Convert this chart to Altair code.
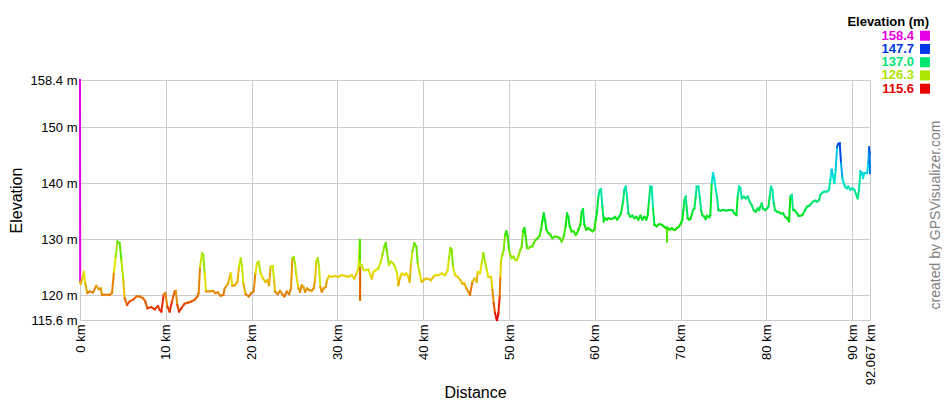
import altair as alt
import pandas as pd

# Track profile (distance in km, elevation in m)
dist_km = [
    0.00, 0.02, 0.08, 0.23, 0.47, 0.62, 0.85, 1.13, 1.52, 1.90, 2.18, 2.41, 2.56, 3.46, 3.73, 3.96,
    4.16, 4.35, 4.62, 4.82, 5.05, 5.21, 5.48, 5.79, 6.18, 6.57, 6.95, 7.34, 7.61, 7.85, 8.31, 8.70,
    9.09, 9.29, 9.48, 9.75, 9.95, 10.18, 10.45, 10.72, 11.03, 11.15, 11.34, 11.54, 11.81, 12.20,
    12.59, 12.98, 13.36, 13.68, 13.83, 13.99, 14.22, 14.37, 14.53, 14.69, 15.11, 15.50, 15.77,
    16.08, 16.39, 16.71, 16.86, 17.25, 17.56, 17.75, 18.03, 18.34, 18.53, 18.73, 18.88, 19.04,
    19.31, 19.66, 19.97, 20.24, 20.44, 20.63, 20.82, 21.06, 21.33, 21.60, 21.83, 22.03, 22.22,
    22.46, 22.61, 22.73, 23.04, 23.31, 23.58, 23.82, 24.09, 24.36, 24.59, 24.75, 24.90, 25.06,
    25.21, 25.45, 25.64, 25.84, 26.03, 26.22, 26.46, 26.69, 27.00, 27.23, 27.39, 27.54, 27.70,
    27.86, 28.01, 28.17, 28.40, 28.63, 28.79, 29.02, 29.33, 29.73, 30.11, 30.50, 30.89, 31.27,
    31.66, 31.97, 32.24, 32.44, 32.62, 32.63, 32.64, 32.65, 32.66, 32.83, 33.06, 33.30, 33.61,
    33.84, 34.00, 34.23, 34.46, 34.77, 35.00, 35.24, 35.47, 35.63, 35.78, 36.01, 36.25, 36.48,
    36.71, 36.95, 37.10, 37.26, 37.49, 37.80, 38.04, 38.27, 38.42, 38.58, 38.73, 38.97, 39.20,
    39.36, 39.59, 39.82, 40.06, 40.29, 40.60, 40.91, 41.18, 41.45, 41.76, 42.15, 42.54, 42.85,
    43.00, 43.16, 43.32, 43.47, 43.71, 44.02, 44.33, 44.56, 44.79, 45.03, 45.26, 45.45, 45.73,
    45.96, 46.23, 46.35, 46.62, 46.81, 47.01, 47.20, 47.40, 47.59, 47.90, 48.06, 48.21, 48.37,
    48.52, 48.60, 48.76, 48.91, 48.99, 49.07, 49.22, 49.38, 49.53, 49.69, 49.84, 50.00, 50.16,
    50.31, 50.50, 50.70, 50.93, 51.09, 51.32, 51.48, 51.63, 51.79, 51.94, 52.10, 52.25, 52.49,
    52.72, 52.88, 53.11, 53.34, 53.57, 53.73, 53.88, 54.04, 54.20, 54.35, 54.58, 54.82, 55.05,
    55.36, 55.67, 55.90, 56.14, 56.37, 56.60, 56.76, 56.91, 57.07, 57.30, 57.54, 57.77, 57.92,
    58.08, 58.31, 58.47, 58.62, 58.78, 59.01, 59.24, 59.48, 59.71, 59.94, 60.10, 60.26, 60.41,
    60.57, 60.72, 60.88, 61.03, 61.19, 61.42, 61.58, 61.89, 62.16, 62.35, 62.59, 62.82, 63.05,
    63.29, 63.44, 63.60, 63.75, 63.91, 64.14, 64.37, 64.61, 64.84, 65.07, 65.31, 65.54, 65.77,
    66.00, 66.16, 66.32, 66.47, 66.63, 66.78, 66.94, 67.21, 67.48, 67.79, 68.02, 68.26, 68.40,
    68.41, 68.42, 68.72, 68.96, 69.19, 69.35, 69.58, 69.81, 70.05, 70.20, 70.32, 70.44, 70.59,
    70.70, 70.82, 70.98, 71.13, 71.29, 71.44, 71.60, 71.76, 71.87, 72.07, 72.22, 72.38, 72.53,
    72.77, 72.92, 73.08, 73.31, 73.46, 73.62, 73.77, 73.93, 74.09, 74.24, 74.40, 74.63, 74.86,
    75.10, 75.33, 75.56, 75.80, 76.03, 76.26, 76.50, 76.65, 76.81, 76.96, 77.12, 77.35, 77.58,
    77.82, 78.05, 78.28, 78.52, 78.75, 78.98, 79.14, 79.29, 79.45, 79.60, 79.84, 80.07, 80.23,
    80.38, 80.54, 80.69, 80.85, 81.00, 81.24, 81.47, 81.70, 81.94, 82.17, 82.40, 82.63, 82.79,
    82.95, 83.10, 83.26, 83.41, 83.57, 83.72, 83.95, 84.19, 84.50, 84.73, 84.96, 85.19, 85.43,
    85.66, 85.89, 86.13, 86.28, 86.52, 86.75, 87.06, 87.29, 87.45, 87.60, 87.76, 87.92, 88.07,
    88.23, 88.38, 88.54, 88.69, 88.85, 89.00, 89.16, 89.39, 89.55, 89.78, 90.01, 90.25, 90.48,
    90.63, 90.79, 90.95, 91.10, 91.26, 91.41, 91.57, 91.72, 91.88, 91.96, 92.03, 92.067,
]
elev_m = [
    158.4, 122.4, 122.1, 122.7, 124.2, 122.1, 120.4, 120.7, 120.5, 121.7, 121.1, 121.25, 120.1, 120.1, 120.4, 124.2,
    126.9, 129.6, 129.3, 126.3, 122.7, 119.5, 118.3, 118.9, 119.2, 119.8, 119.8, 119.5, 118.9, 117.7, 117.9, 117.5,
    118.1, 117.4, 117.1, 120.1, 120.4, 118.0, 117.1, 118.9, 120.7, 120.8, 118.3, 117.1, 117.7, 118.5,
    118.7, 118.9, 119.2, 119.8, 120.4, 125.1, 127.5, 127.2, 123.9, 120.7, 120.7, 120.8, 120.4,
    120.5, 119.9, 120.1, 121.25, 122.1, 123.9, 121.7, 121.8, 122.4, 125.1, 126.6, 125.1, 122.1,
    120.2, 119.8, 120.4, 120.7, 123.9, 125.7, 126.0, 123.9, 123.0, 122.4, 122.7, 121.8, 125.1,
    125.2, 122.7, 120.65, 120.2, 120.8, 120.2, 119.8, 120.65, 120.2, 121.25, 126.6, 126.8, 125.7,
    123.6, 121.25, 120.65, 121.8, 121.5, 120.65, 121.25, 120.95, 120.8, 121.25, 122.7, 126.0, 126.6,
    125.1, 121.5, 120.65, 121.25, 121.5, 122.7, 123.45, 123.3, 123.45, 123.3, 123.6, 123.45, 123.3,
    123.6, 123.0, 123.9, 124.8, 129.9, 126.0, 119.2, 125.2, 125.3, 125.4, 124.5, 124.5, 124.6,
    123.6, 123.0, 124.2, 124.5, 124.8, 125.7, 127.2, 128.7, 129.3, 127.8, 125.4, 126.0, 125.7,
    125.1, 123.9, 121.8, 123.0, 123.9, 123.6, 123.9, 123.3, 122.4, 125.7, 127.8, 129.3, 128.7,
    125.7, 123.9, 122.4, 122.7, 123.0, 122.9, 122.7, 123.3, 123.6, 123.6, 123.9, 123.6, 124.5,
    126.6, 128.4, 128.1, 125.1, 123.6, 123.3, 122.7, 122.1, 122.1, 121.25, 120.65, 120.06, 122.4,
    123.0, 122.4, 124.2, 123.9, 125.7, 127.5, 126.0, 124.5, 123.3, 123.3, 121.0, 118.6, 116.8,
    115.9, 115.6, 116.8, 119.8, 123.3, 126.3, 127.2, 128.1, 130.8, 131.4, 130.5, 128.1, 127.2,
    126.6, 126.9, 126.4, 126.3, 127.0, 128.1, 128.7, 131.4, 132.0, 130.5, 128.4, 128.4, 128.7,
    128.7, 129.3, 129.9, 130.2, 130.6, 131.7, 133.2, 134.6, 133.5, 131.7, 131.1, 130.8, 130.2,
    130.5, 130.4, 130.2, 129.6, 130.5, 132.3, 134.6, 134.0, 132.3, 131.4, 131.4, 130.8, 131.1,
    131.7, 132.6, 134.9, 135.4, 132.6, 131.7, 132.0, 131.7, 131.4, 131.7, 133.5, 134.9, 137.6,
    138.8, 138.9, 135.8, 133.2, 133.75, 133.5, 133.75, 133.6, 133.75, 134.0, 133.5, 134.0, 134.6,
    136.7, 138.8, 139.4, 137.6, 134.6, 134.0, 134.2, 133.75, 134.0, 133.5, 134.2, 133.5, 134.0,
    133.5, 134.3, 137.0, 139.4, 139.3, 135.5, 132.6, 132.3, 132.7, 132.6, 132.3, 132.0, 132.0,
    129.6, 132.1, 131.7, 132.0, 131.7, 131.7, 132.0, 132.3, 132.9, 133.5, 135.2, 137.0, 137.6,
    135.8, 133.75, 133.5, 133.6, 134.3, 135.2, 135.5, 137.6, 139.4, 139.4, 137.6, 135.2, 134.3,
    134.0, 133.6, 134.2, 133.9, 134.3, 140.0, 141.8, 140.7, 138.8, 137.6, 135.2, 135.1, 135.2,
    135.2, 135.1, 135.2, 135.2, 135.2, 134.6, 134.3, 137.6, 139.4, 139.1, 137.3, 137.6, 137.3,
    137.6, 136.7, 136.1, 135.2, 134.9, 135.5, 135.2, 135.8, 136.4, 135.5, 135.2, 135.5, 135.8,
    137.6, 139.4, 138.8, 136.4, 135.2, 134.9, 134.8, 134.6, 134.6, 134.0, 133.75, 133.2, 137.6,
    137.9, 135.2, 135.2, 134.9, 134.6, 134.2, 134.2, 134.3, 135.2, 135.8, 135.95, 136.3, 136.7,
    136.9, 136.7, 137.0, 137.9, 138.3, 138.5, 138.5, 138.8, 140.6, 142.4, 141.2, 140.0, 142.4,
    146.5, 147.0, 147.1, 143.6, 140.9, 140.0, 139.4, 139.1, 139.4, 138.8, 139.1, 138.8, 137.9,
    137.3, 138.8, 142.1, 141.8, 140.9, 141.8, 141.8, 141.8, 143.6, 146.4, 145.4, 141.8,
]

x_tick_km = [0, 10, 20, 30, 40, 50, 60, 70, 80, 90, 92.067]
y_tick_m = [115.6, 120, 130, 140, 150, 158.4]
legend_m = [158.4, 147.7, 137.0, 126.3, 115.6]
color_stops_m = [115.6, 119.88, 124.16, 128.44, 132.72, 137.0, 141.28, 145.56, 149.84, 154.12, 158.4]
color_stops_hex = ["#e60000", "#e67300", "#e6e600", "#73e600", "#00e600", "#00e673",
                   "#00e6e6", "#0073e6", "#0000e6", "#7300e6", "#e600e6"]

FONT = "Liberation Sans"

seg = pd.DataFrame({
    "d": dist_km[:-1], "e": elev_m[:-1],
    "d2": dist_km[1:], "e2": elev_m[1:],
})
legend_df = pd.DataFrame({"v": legend_m, "k": list(range(len(legend_m)))})

cscale = alt.Scale(domain=color_stops_m, range=color_stops_hex, interpolate="hsl")
xscale = alt.Scale(domain=[0, 92.067], nice=False, zero=False)
yscale = alt.Scale(domain=[115.6, 158.4], nice=False, zero=False)

profile = alt.Chart(seg).mark_rule(strokeWidth=2, strokeCap="square").encode(
    x=alt.X("d:Q", scale=xscale, title="Distance",
            axis=alt.Axis(values=x_tick_km, labelExpr="datum.value + ' km'",
                          labelAngle=270, labelAlign="right", labelBaseline="middle",
                          labelPadding=4, labelOverlap=False, labelFlush=False,
                          labelFont=FONT, labelFontSize=13, labelColor="#000000",
                          domain=False, ticks=False, grid=True,
                          gridColor="#cccccc", gridWidth=1,
                          titleFont=FONT, titleFontSize=16, titleFontWeight="normal",
                          titleColor="#000000",
                          titleY=72, titleBaseline="middle")),
    x2="d2:Q",
    y=alt.Y("e:Q", scale=yscale, title="Elevation",
            axis=alt.Axis(values=y_tick_m, labelExpr="datum.value + ' m'",
                          labelPadding=3, labelOverlap=False, labelFlush=False,
                          labelFont=FONT, labelFontSize=13, labelColor="#000000",
                          domain=False, ticks=False, grid=True,
                          gridColor="#cccccc", gridWidth=1,
                          titleFont=FONT, titleFontSize=16, titleFontWeight="normal",
                          titleColor="#000000",
                          titleX=-64, titleY=120, titleBaseline="middle", titleAngle=270)),
    y2="e2:Q",
    color=alt.Color("e:Q", scale=cscale, legend=None),
)

leg_text = alt.Chart(legend_df).transform_calculate(
    py="-44.3 + datum.k * 13.25"
).mark_text(align="right", baseline="middle", font=FONT, fontSize=13, fontWeight="bold").encode(
    x=alt.value(834),
    y=alt.Y("py:Q", scale=None),
    text=alt.Text("v:Q", format=".1f"),
    color=alt.Color("v:Q", scale=cscale, legend=None),
)

leg_box = alt.Chart(legend_df).transform_calculate(
    py="-44.3 + datum.k * 13.25"
).mark_square(size=100, opacity=1).encode(
    x=alt.value(845),
    y=alt.Y("py:Q", scale=None),
    color=alt.Color("v:Q", scale=cscale, legend=None),
)

leg_title = alt.Chart(pd.DataFrame({"t": ["Elevation (m)"]})).mark_text(
    align="right", baseline="middle", font=FONT, fontSize=13, fontWeight="bold", color="#000000"
).encode(text="t:N", x=alt.value(849), y=alt.value(-58))

credit = alt.Chart(pd.DataFrame({"t": ["created by GPSVisualizer.com"]})).mark_text(
    angle=270, align="center", baseline="middle", font=FONT, fontSize=14, color="#808080"
).encode(text="t:N", x=alt.value(856), y=alt.value(135))

chart = alt.layer(profile, leg_text, leg_box, leg_title, credit).properties(
    width=790, height=240,
    background="#ffffff",
    autosize=alt.AutoSizeParams(type="none"),
    padding={"left": 72, "top": 72, "right": 72, "bottom": 80},
).configure_view(stroke=None)

chart.save("out.html", embed_options={"renderer": "svg", "actions": False})
